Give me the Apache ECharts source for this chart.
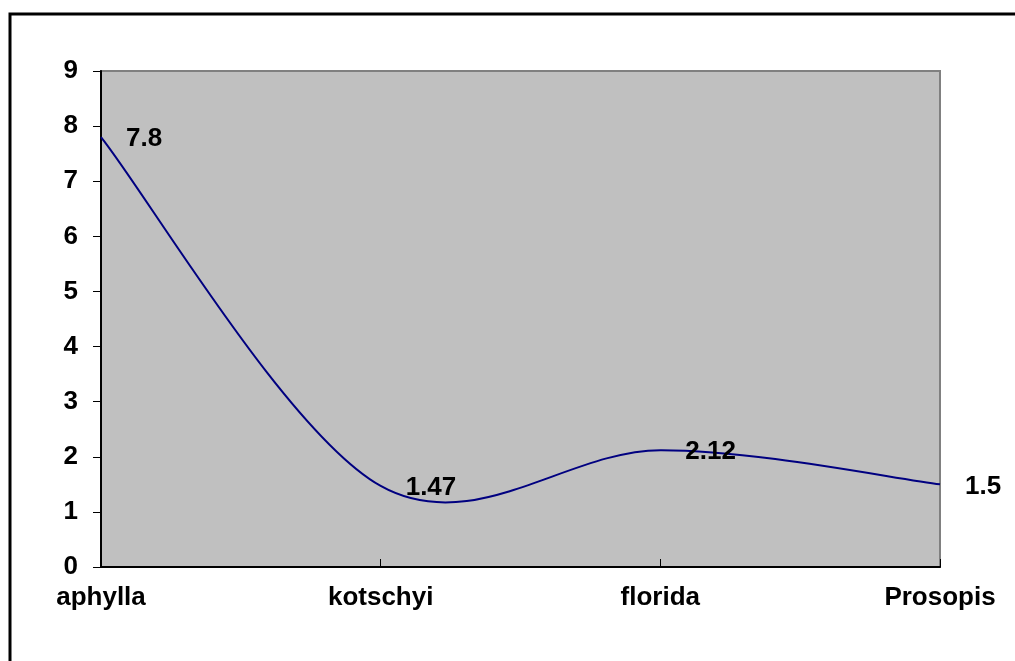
<!DOCTYPE html>
<html><head><meta charset="utf-8">
<script src="https://cdn.jsdelivr.net/npm/echarts@6/dist/echarts.min.js"></script>
<style>html,body{margin:0;padding:0;background:#fff}#c{width:1015px;height:661px}</style>
</head><body><div id="c"></div>
<script>
const categories = ['aphylla', 'kotschyi', 'florida', 'Prosopis'];
const values = [7.8, 1.47, 2.12, 1.5];
const yTicks = [0, 1, 2, 3, 4, 5, 6, 7, 8, 9];

const chart = echarts.init(document.getElementById('c'));
const font = 'Liberation Sans, Arial, sans-serif';

// Smoothed curve (Excel-style Catmull-Rom bezier) drawn through the axis scales via api.coord
function renderCurve(params, api) {
  if (params.dataIndexInside !== 0) return null;
  const n = params.dataInsideLength;
  const pts = [];
  for (let i = 0; i < n; i++) {
    pts.push(api.coord([api.value(0, i), api.value(1, i)]));
  }
  const P = (i) => pts[Math.max(0, Math.min(n - 1, i))];
  let d = 'M' + pts[0][0] + ' ' + pts[0][1];
  for (let i = 0; i < n - 1; i++) {
    const p0 = P(i - 1), p1 = P(i), p2 = P(i + 1), p3 = P(i + 2);
    const c1 = [p1[0] + (p2[0] - p0[0]) / 6, p1[1] + (p2[1] - p0[1]) / 6];
    const c2 = [p2[0] - (p3[0] - p1[0]) / 6, p2[1] - (p3[1] - p1[1]) / 6];
    d += ' C' + c1[0] + ' ' + c1[1] + ' ' + c2[0] + ' ' + c2[1] + ' ' + p2[0] + ' ' + p2[1];
  }
  return {
    type: 'path',
    shape: {pathData: d},
    style: {fill: 'none', stroke: '#000080', lineWidth: 2}
  };
}

chart.setOption({
  animation: false,
  backgroundColor: '#fff',
  graphic: [{
    type: 'rect', shape: {x: 10, y: 14, width: 1020, height: 660},
    style: {fill: 'none', stroke: '#000', lineWidth: 3}, z: 100
  }],
  grid: {left: 101, right: 75, top: 71, bottom: 94, show: true,
    backgroundColor: '#c0c0c0', borderColor: '#808080', borderWidth: 2},
  xAxis: {
    type: 'category', data: categories, boundaryGap: false,
    axisLine: {lineStyle: {color: '#000', width: 2}},
    axisTick: {inside: true, length: 8, lineStyle: {color: '#000', width: 1}},
    axisLabel: {color: '#000', fontFamily: font, fontWeight: 'bold', fontSize: 26, margin: 18},
    splitLine: {show: false}
  },
  yAxis: {
    type: 'value', min: yTicks[0], max: yTicks[yTicks.length - 1], interval: 1,
    axisLine: {show: true, lineStyle: {color: '#000', width: 2}},
    axisTick: {show: true, length: 8, lineStyle: {color: '#000', width: 1}},
    axisLabel: {color: '#000', fontFamily: font, fontWeight: 'bold', fontSize: 26, margin: 23},
    splitLine: {show: false}
  },
  series: [{
    type: 'custom',
    data: values.map((v, i) => [i, v]),
    renderItem: renderCurve,
    z: 3
  }, {
    type: 'line', data: values, smooth: false,
    symbol: 'circle', symbolSize: 2, showSymbol: true,
    itemStyle: {color: 'rgba(0,0,0,0)', borderWidth: 0},
    lineStyle: {color: 'rgba(0,0,0,0)', width: 0},
    label: {show: true, position: 'right', distance: 24, offset: [0, 2], color: '#000',
      fontFamily: font, fontWeight: 'bold', fontSize: 26},
    z: 4
  }]
});
</script></body></html>
